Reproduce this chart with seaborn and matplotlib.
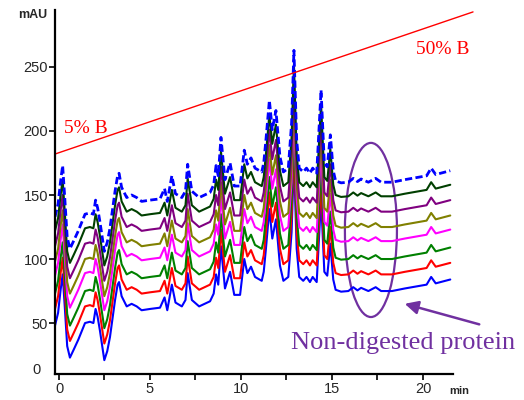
import numpy as np
import pandas as pd
import matplotlib
matplotlib.use('Agg')
import matplotlib.pyplot as plt
from matplotlib.patches import Ellipse
import seaborn as sns

# retention time (min) and absorbance of the lowest (blue) chromatogram
ret_time = [-0.22, -0.05, 0.08, 0.2, 0.32, 0.45, 0.6, 0.8, 1.06, 1.43, 1.7, 1.89,
            2.01, 2.12, 2.25, 2.49, 2.65, 2.8, 3.08, 3.22, 3.3, 3.44, 3.72, 3.99,
            4.27, 4.54, 5.0, 5.55, 5.8, 5.95, 6.2, 6.4, 6.75, 6.95, 7.07, 7.3,
            7.7, 8.3, 8.5, 8.63, 8.75, 8.9, 9.12, 9.4, 9.63, 9.95, 10.18, 10.35,
            10.55, 10.77, 11.14, 11.25, 11.37, 11.56, 11.72, 11.92, 12.14, 12.33,
            12.6, 12.78, 12.91, 13.06, 13.2, 13.42, 13.6, 13.79, 13.94, 14.16,
            14.4, 14.58, 14.74, 14.91, 15.07, 15.2, 15.5, 15.9, 16.17, 16.4,
            16.6, 17.0, 17.4, 17.7, 18.3, 19.0, 19.6, 20.2, 20.45, 20.7, 21.5]
blue_mau = [48, 58, 75, 88, 62, 32, 23, 29, 37, 50, 51, 50,
            61, 55, 44, 21, 28, 39, 68, 80, 82, 71, 63, 65,
            63, 60, 61, 62, 70, 60, 80, 66, 63, 68, 89, 68,
            63, 67, 73, 88, 80, 110, 77, 90, 72, 72, 100, 89,
            94, 86, 83, 90, 108, 139, 116, 131, 95, 83,
            86, 121, 178, 108, 86, 83, 86, 82, 86, 82,
            147, 90, 87, 112, 84, 76, 74.5, 75, 78, 75.5,
            77.5, 75, 78, 75, 75, 77, 78.5, 80, 86, 81, 84]

# vertical offset of each run above the blue one
runs = ['r1', 'r2', 'r3', 'r4', 'r5', 'r6', 'r7', 'r8']
run_offset = [0, 13, 25, 39, 50, 62, 74, 85]
run_color = ['#0000ff', '#ff0000', '#008000', '#ff00ff',
             '#808000', '#800080', '#003f00', '#0000ff']

# gradient line (%B)
grad_time = [-0.22, 22.75]
grad_mau = [182, 293]

rows = []
for run, off in zip(runs, run_offset):
    for t, v in zip(ret_time, blue_mau):
        rows.append({'min': t, 'mAU': v + off, 'run': run})
df = pd.DataFrame(rows)

sns.set_theme(style='white')
plt.rcParams['font.family'] = ['Liberation Sans', 'DejaVu Sans']

fig = plt.figure(figsize=(5.24, 4.0), dpi=100)
ax = fig.add_axes([55/524, 26/400, 398/524, 364/400])

dashes = {r: '' for r in runs}
dashes['r8'] = (2.6, 1.2)
sns.lineplot(data=df, x='min', y='mAU', hue='run', style='run',
             palette=dict(zip(runs, run_color)), dashes=dashes,
             hue_order=runs, style_order=runs, sort=False,
             linewidth=1.5, legend=False, ax=ax)
ax.lines[-1].set_linewidth(2.0)

ax.plot(grad_time, grad_mau, color='#ff0000', lw=1.0, clip_on=False)

ax.set_xlim(-0.22, 21.65)
ax.set_ylim(10.2, 294.5)
ax.set_xlabel('')
ax.set_ylabel('')
ax.set_xticks([0, 5, 10, 15, 20])
ax.set_xticks([2.5, 7.5, 12.5, 17.5], minor=True)
ax.set_yticks([50, 100, 150, 200, 250])
for s in ['top', 'right']:
    ax.spines[s].set_visible(False)
for s in ['left', 'bottom']:
    ax.spines[s].set_linewidth(1.6)
    ax.spines[s].set_color('black')
ax.tick_params(which='both', direction='out', length=4, width=1.2,
               color='black', labelsize=10.5, pad=2,
               bottom=True, left=True)
ax.tick_params(axis='y', pad=1)

ax.annotate('0', xy=(0, 13), xycoords=('axes fraction', 'data'),
            xytext=(-10, 0), textcoords='offset points',
            ha='right', va='center', fontsize=10.5)
fig.text(33/524, 1 - 15/400, 'mAU', ha='center', va='center',
         fontsize=9, fontweight='bold')
fig.text(459/524, 1 - 391/400, 'min', ha='center', va='center',
         fontsize=8, fontweight='bold')

serif = ['Liberation Serif', 'DejaVu Serif']
ax.text(1.48, 202, '5% B', color='#ff0000', fontsize=14, family=serif,
        ha='center', va='center')
ax.text(21.1, 264, '50% B', color='#ff0000', fontsize=14, family=serif,
        ha='center', va='center', clip_on=False)

purple = '#7030a0'
ax.add_patch(Ellipse((17.14, 122.7), 2.86, 136, fill=False,
                     edgecolor=purple, lw=1.6))
ax.annotate('', xy=(18.85, 65.6), xytext=(23.24, 48.4),
            arrowprops=dict(arrowstyle='-|>', color=purple, lw=1.8,
                            mutation_scale=20),
            annotation_clip=False)
ax.text(18.9, 34.4, 'Non-digested protein', color=purple, fontsize=19,
        family=serif, ha='center', va='center', clip_on=False)

fig.savefig('out.png', dpi=100)
